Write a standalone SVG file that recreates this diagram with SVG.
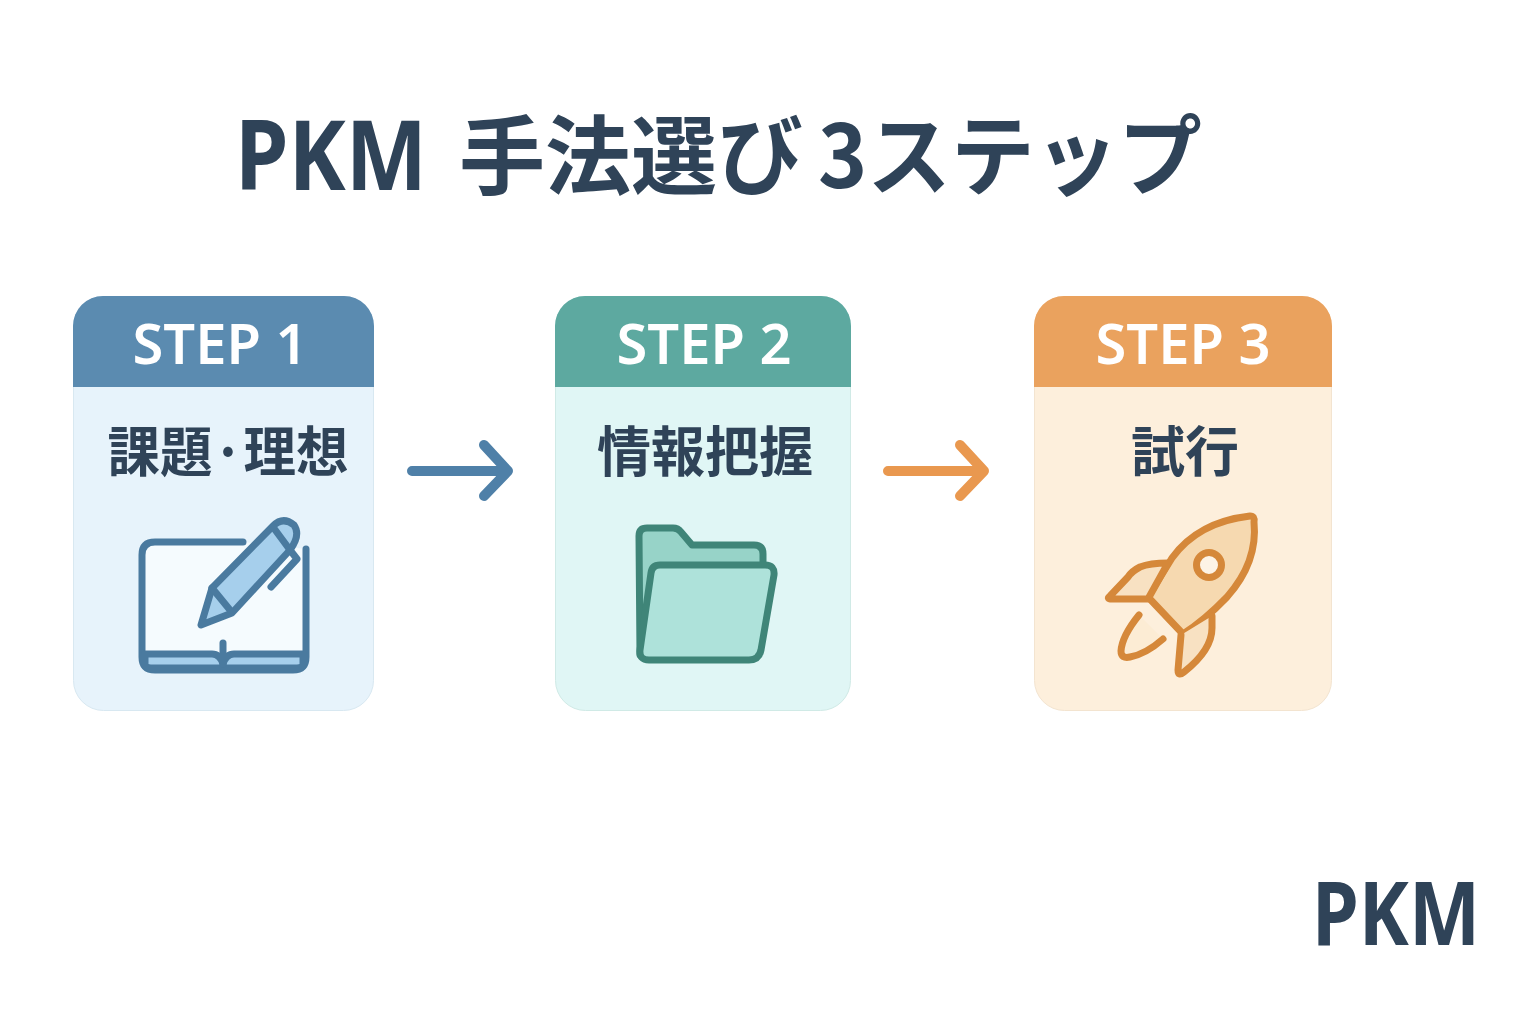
<svg xmlns="http://www.w3.org/2000/svg" width="1536" height="1024" viewBox="0 0 1536 1024">
<style>
.t{font-family:"Noto Sans CJK JP","Noto Sans",sans-serif;font-weight:700;fill:#2f4358}
.l{text-anchor:middle;font-size:54px}
.p{font-family:"Noto Sans","Open Sans",sans-serif;font-weight:700;fill:#2f4358}
.h{font-family:"Noto Sans","Open Sans",sans-serif;font-weight:600;fill:#fff;text-anchor:middle;font-size:56px}
.i{fill:none;stroke-linecap:round;stroke-linejoin:round;stroke-width:7}
.a{fill:none;stroke-linecap:round;stroke-linejoin:round;stroke-width:10}
</style>
<rect width="1536" height="1024" fill="#fff"/>
<g id="title">
<text class="p" x="235" y="190" font-size="96" textLength="192" lengthAdjust="spacingAndGlyphs">PKM</text>
<text class="t" x="459" y="188" font-size="86">手法選び</text>
<text class="t" x="818" y="188" font-size="88" textLength="384" lengthAdjust="spacingAndGlyphs">3ステップ</text>
</g>
<g id="step1">
<rect x="73.500" y="296.500" width="300" height="414" rx="30" fill="#e7f3fb" stroke="#d8e8f1"/>
<path d="M73 387V326a30 30 0 0 1 30-30H344a30 30 0 0 1 30 30V387Z" fill="#5b8bb0"/>
<text class="h" x="220" y="364">STEP 1</text>
<text class="t l" x="228" y="472" textLength="241" lengthAdjust="spacingAndGlyphs">課題·理想</text>
<g class="i" stroke="#4a7a9f">
<path d="M243 542H155Q142 542 142 555V657Q142 670 155 670H293Q306 670 306 657V549" fill="#f5fbfe"/>
<path d="M145 654H212Q220 654 223 664Q226 654 234 654H303V664Q303 668 297 668H151Q145 668 145 664Z" fill="#a6cfec"/>
<path d="M223 643V664"/>
<path d="M201 625L212 588L273 526Q283 516 294 525Q301 535 290 550L232 613Z" fill="#a6cfec"/>
<path d="M212 588L230 610M273 527L290 550M290 550L297 559L271 587"/>
</g>
</g>
<g id="step2">
<rect x="555.500" y="296.500" width="295" height="414" rx="30" fill="#e0f6f5" stroke="#d0eae6"/>
<path d="M555 387V326a30 30 0 0 1 30-30H821a30 30 0 0 1 30 30V387Z" fill="#5da9a0"/>
<text class="h" x="704" y="364">STEP 2</text>
<text class="t l" x="705" y="472">情報把握</text>
<g class="i" stroke="#3f8578">
<path d="M640 655L639 536Q639 528 647 528H673Q678 528 681 532L692 545H754Q763 545 763 554V566H656Z" fill="#97d3c8"/>
<path d="M651 573Q652 565 660 565H765Q775 565 774 575L761 650Q759 660 749 660H649Q639 660 640 650Z" fill="#aee2da"/>
</g>
</g>
<g id="step3">
<rect x="1034.500" y="296.500" width="297" height="414" rx="30" fill="#fdefdc" stroke="#f3e4d0"/>
<path d="M1034 387V326a30 30 0 0 1 30-30H1302a30 30 0 0 1 30 30V387Z" fill="#eaa25e"/>
<text class="h" x="1183" y="364">STEP 3</text>
<text class="t l" x="1185" y="472">試行</text>
<g class="i" stroke="#d5883a">
<path d="M1148 597L1172 558Q1198 522 1250 516Q1255 516 1254 522Q1258 562 1227 597Q1205 620 1183 634Z" fill="#f6d9b0"/>
<circle cx="1209" cy="565" r="12.500" fill="#fdf3e6"/>
<path d="M1168 563Q1150 563 1140 567Q1132 571 1128 577L1110 596Q1106 599 1112 599H1148Z" fill="#f8e1c2"/>
<path d="M1139 615Q1122 636 1121 651Q1121 659 1130 657Q1146 654 1163 639" fill="#fcecd4"/>
<path d="M1181 635L1178 670Q1178 677 1184 672Q1212 650 1212 628V616" fill="#f8e1c2"/>
</g>
</g>
<g id="connectors">
<path class="a" stroke="#4f80a8" d="M412 471H506M484 445L508 471L484 496"/>
<path class="a" stroke="#e9984f" d="M888 471H982M960 445L984 471L960 496"/>
</g>
<text class="p" x="1312" y="945" font-size="88" textLength="168" lengthAdjust="spacingAndGlyphs">PKM</text>
</svg>
